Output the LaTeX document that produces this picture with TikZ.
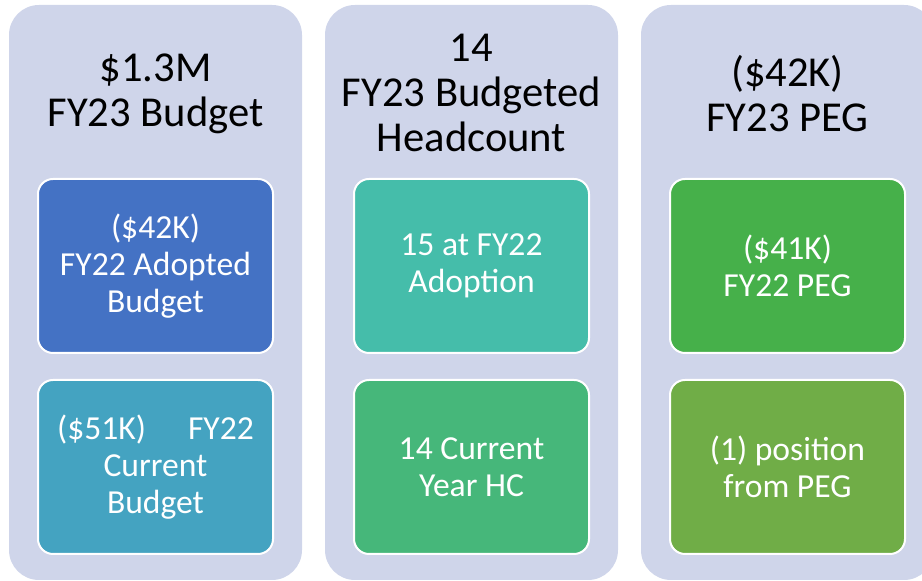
\documentclass[tikz,border=0pt]{standalone}
\usepackage{fontspec}
\setmainfont{Carlito}
\usepackage{tikz}
\usetikzlibrary{calc}
\usetikzlibrary{positioning}

\definecolor{panelbg}{HTML}{CFD5EA}
\definecolor{adoptblue}{HTML}{4472C4}
\definecolor{currteal}{HTML}{44A3C1}
\definecolor{hcaqua}{HTML}{45BDAA}
\definecolor{hcgreen}{HTML}{46B77A}
\definecolor{peggreen}{HTML}{46B04A}
\definecolor{posgreen}{HTML}{70AD47}

\begin{document}
\begin{tikzpicture}[x=0.5pt,y=-0.5pt,
    panel/.style={fill=panelbg,draw=none,rounded corners=15pt},
    title/.style={align=flush center,text=black,inner sep=0pt,font=\fontsize{21.3pt}{22.5pt}\selectfont},
    card/.style={draw=white,line width=1pt,rounded corners=7.5pt,minimum width=117.5pt,minimum height=87pt,
      align=flush center,text=white,text width=108pt,inner sep=0pt,font=\fontsize{16.8pt}{18.5pt}\selectfont}]
  \useasboundingbox (0,0) rectangle (922,581);
  \clip (0,0) rectangle (922,581);
  % background columns
  \fill[panel] (9,5) rectangle (302,580);
  \fill[panel] (325,5) rectangle (618,580);
  \fill[panel] (641,5) rectangle (934,580);
  % column headings
  \node[title] (budget) at (155.5,94) {\$1.3M\\FY23 Budget};
  \node[title] (headcount) at (471.5,93) {14\\FY23 Budgeted\\Headcount};
  \node[title] (peg) at (787.5,94) {(\$42K)\\FY23 PEG};
  % detail cards
  \node[card,fill=adoptblue] (adopted) at (155.5,266) {(\$42K)\\FY22 Adopted\\Budget};
  \node[card,fill=currteal] (current) at (155.5,467) {(\$51K)\hspace{21pt}FY22\\Current\\Budget};
  \node[card,fill=hcaqua] (adoption) at (471.5,266) {15 at FY22\\Adoption};
  \node[card,fill=hcgreen] (currenthc) at (471.5,467) {14 Current\\Year HC};
  \node[card,fill=peggreen] (pegprev) at (787.5,266) {(\$41K)\\FY22 PEG};
  \node[card,fill=posgreen] (position) at (787.5,467) {(1) position\\from PEG};
\end{tikzpicture}
\end{document}
